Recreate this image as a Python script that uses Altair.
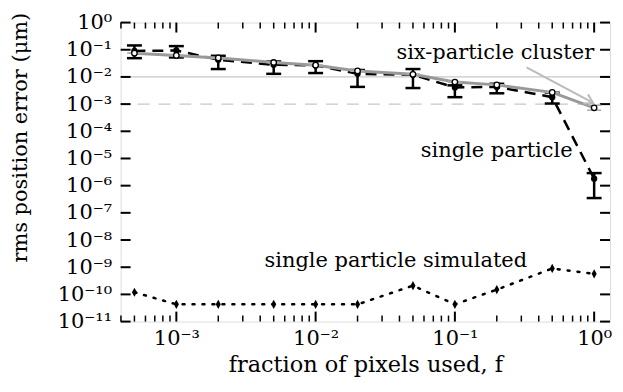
import altair as alt
import pandas as pd
import math

# ---------------- data ----------------
f = [5e-4, 1e-3, 2e-3, 5e-3, 1e-2, 2e-2, 5e-2, 0.1, 0.2, 0.5, 1.0]
single = [0.090, 0.094, 0.043, 0.028, 0.0266, 0.013, 0.012, 0.0041, 0.0043, 0.0018, 1.8e-6]
single_lo = [0.049, 0.052, 0.0195, 0.013, 0.0139, 0.0043, 0.0039, 0.0018, 0.0025, 0.00105, 3.5e-7]
single_hi = [0.144, 0.136, 0.060, 0.037, 0.038, 0.018, 0.0195, 0.0049, 0.0056, 0.00266, 2.9e-6]
cluster = [0.075, 0.062, 0.050, 0.034, 0.027, 0.0166, 0.0125, 0.0065, 0.0051, 0.0027, 0.00073]
cluster_lo = [0.075, 0.062, 0.050, 0.034, 0.027, 0.0166, 0.0125, 0.0065, 0.0051, 0.0027, 0.0006]
cluster_hi = [0.075, 0.062, 0.050, 0.034, 0.027, 0.0166, 0.0125, 0.0065, 0.0051, 0.0027, 0.00091]
simulated = [1.2e-10, 4.3e-11, 4.3e-11, 4.3e-11, 4.3e-11, 4.3e-11, 2.1e-10, 4.3e-11, 1.5e-10, 9e-10, 5.7e-10]

ref_solid = [1e-2]
ref_dashed = [1e-3]

x_major = [1e-3, 1e-2, 1e-1, 1.0]
x_labels = ["10⁻³", "10⁻²", "10⁻¹", "10⁰"]
x_minor = [m * 10.0 ** k for k in (-4, -3, -2, -1, 0) for m in range(2, 10)]
x_minor = [v for v in x_minor if 4.0e-4 <= v <= 1.3]
y_major = [10.0 ** (-k) for k in range(0, 12)]
sup = {"0": "⁰", "1": "¹", "2": "²", "3": "³", "4": "⁴", "5": "⁵", "6": "⁶",
       "7": "⁷", "8": "⁸", "9": "⁹", "-": "⁻"}
y_labels = ["10" + "".join(sup[c] for c in str(-k if k else 0)) for k in range(0, 12)]

# annotations (data coordinates)
ann_text = ["six-particle cluster", "single particle", "single particle simulated"]
ann_x = [1.0, 0.70, 0.33]
ann_y = [0.047, 1.14e-5, 1.0e-9]
arrow_x = [0.327, 0.984]
arrow_y = [0.0225, 0.0011]

# ---------------- chart ----------------
W, H = 491, 300
FONT = "DejaVu Serif"
FS = 21
LFS = 21


def expr_map(vals, labels, field="datum.value"):
    parts = []
    for v, l in zip(vals, labels):
        parts.append(f"abs(log({field})/LN10 - ({math.log10(v):.4f})) < 0.01 ? '{l}' : ")
    return "".join(parts) + "''"


xscale = alt.Scale(type="log", domain=[3.98e-4, 1.3], nice=False)
yscale = alt.Scale(type="log", domain=[1e-11, 1.0], nice=False)

xaxis = alt.Axis(values=x_major, labelExpr=expr_map(x_major, x_labels), ticks=False, domain=False,
                 grid=False, labelFont=FONT, labelFontSize=LFS, labelColor="black", labelPadding=6,
                 title="fraction of pixels used, f", titleFont=FONT, titleFontSize=22.5,
                 titleFontWeight="normal", titleColor="black", titleBaseline="alphabetic", titleY=50,
                 labelFlush=False)
yaxis = alt.Axis(values=y_major, labelExpr=expr_map(y_major, y_labels), ticks=False, domain=False,
                 grid=False, labelFont=FONT, labelFontSize=LFS, labelColor="black", labelPadding=9,
                 title="rms position error (μm)", titleFont=FONT, titleFontSize=21,
                 titleFontWeight="normal", titleColor="black", titleX=-100, titleY=115,
                 titleBaseline="middle", labelFlush=False, labelBaseline="middle")


def X(field):
    return alt.X(f"{field}:Q", scale=xscale, axis=xaxis)


def Y(field):
    return alt.Y(f"{field}:Q", scale=yscale, axis=yaxis)


df = pd.DataFrame({"f": f, "single": single, "lo": single_lo, "hi": single_hi,
                   "cluster": cluster, "clo": cluster_lo, "chi": cluster_hi, "sim": simulated})
base = alt.Chart(df)

ref1 = alt.Chart(pd.DataFrame({"y": ref_solid})).mark_rule(color="#c8c8c8", strokeWidth=1.3).encode(
    y=Y("y"))
ref2 = alt.Chart(pd.DataFrame({"y": ref_dashed})).mark_rule(
    color="#c8c8c8", strokeWidth=1.3, strokeDash=[12, 9]).encode(y=Y("y"))

err_stem = base.mark_rule(color="black", strokeWidth=2.5).encode(x=X("f"), y=Y("lo"), y2="hi")
cap = "M-1,0L1,0"
err_cap_lo = base.mark_point(shape=cap, size=225, color="black", strokeWidth=2.5, filled=False,
                             opacity=1).encode(x=X("f"), y=Y("lo"))
err_cap_hi = base.mark_point(shape=cap, size=225, color="black", strokeWidth=2.5, filled=False,
                             opacity=1).encode(x=X("f"), y=Y("hi"))

c_cap_lo = base.mark_point(shape=cap, size=200, color="#aaaaaa", strokeWidth=1.5, filled=False,
                           opacity=1).encode(x=X("f"), y=Y("clo"))
c_cap_hi = base.mark_point(shape=cap, size=200, color="#aaaaaa", strokeWidth=1.5, filled=False,
                           opacity=1).encode(x=X("f"), y=Y("chi"))

single_line = base.mark_line(color="black", strokeWidth=2.5, strokeDash=[11, 7]).encode(
    x=X("f"), y=Y("single"))
cluster_line = base.mark_line(color="#999999", strokeWidth=3).encode(x=X("f"), y=Y("cluster"))
single_pts = base.mark_circle(color="black", size=40, opacity=1).encode(x=X("f"), y=Y("single"))
cluster_pts = base.mark_point(shape="circle", size=30, fill="white", stroke="black", strokeWidth=1.3,
                              filled=False, opacity=1, fillOpacity=1).encode(x=X("f"), y=Y("cluster"))

sim_line = base.mark_line(color="black", strokeWidth=2.5, strokeDash=[2, 8], strokeCap="round").encode(
    x=X("f"), y=Y("sim"))
sim_pts = base.mark_point(shape="M0,-1L0.55,0L0,1L-0.55,0Z", size=85, filled=True, color="black",
                          opacity=1).encode(x=X("f"), y=Y("sim"))

ann = alt.Chart(pd.DataFrame({"t": ann_text, "x": ann_x, "y": ann_y})).mark_text(
    align="right", baseline="alphabetic", font=FONT, fontSize=FS, color="black").encode(
    x=X("x"), y=Y("y"), text="t:N")

arrow_df = pd.DataFrame({"x": [arrow_x[0]], "y": [arrow_y[0]], "x2": [arrow_x[1]], "y2": [arrow_y[1]]})
arrow = alt.Chart(arrow_df).mark_rule(color="#bbbbbb", strokeWidth=2).encode(
    x=X("x"), y=Y("y"), x2="x2", y2="y2")
arrow_head = alt.Chart(arrow_df).mark_point(shape="M-1,-0.6L0,0L-1,0.6", size=300, angle=28,
                                            color="#bbbbbb", strokeWidth=2, filled=False,
                                            opacity=1).encode(x=X("x2"), y=Y("y2"))

# inward ticks
xmaj = pd.DataFrame({"v": x_major})
xmin = pd.DataFrame({"v": x_minor})
ymaj = pd.DataFrame({"v": y_major})
tick_layers = [
    alt.Chart(xmaj).mark_rule(color="black", strokeWidth=2).encode(x=X("v"), y=alt.value(H), y2=alt.value(H - 10)),
    alt.Chart(xmaj).mark_rule(color="black", strokeWidth=2).encode(x=X("v"), y=alt.value(0), y2=alt.value(10)),
    alt.Chart(xmin).mark_rule(color="black", strokeWidth=1.5).encode(x=X("v"), y=alt.value(H), y2=alt.value(H - 6)),
    alt.Chart(xmin).mark_rule(color="black", strokeWidth=1.5).encode(x=X("v"), y=alt.value(0), y2=alt.value(6)),
    alt.Chart(ymaj).mark_rule(color="black", strokeWidth=2).encode(y=Y("v"), x=alt.value(0), x2=alt.value(10)),
    alt.Chart(ymaj).mark_rule(color="black", strokeWidth=2).encode(y=Y("v"), x=alt.value(W), x2=alt.value(W - 10)),
]

chart = alt.layer(
    ref1, ref2, *tick_layers, err_stem, err_cap_lo, err_cap_hi, single_line, cluster_line,
    c_cap_lo, c_cap_hi, single_pts, cluster_pts, sim_line, sim_pts, arrow, arrow_head, ann
).properties(
    width=W, height=H,
    autosize=alt.AutoSizeParams(type="none"),
    padding={"left": 113, "top": 14, "right": 5, "bottom": 57},
).configure_view(stroke="black", strokeWidth=2.5).configure(background="white")

chart.save("out.html", embed_options={"renderer": "svg", "actions": False})
